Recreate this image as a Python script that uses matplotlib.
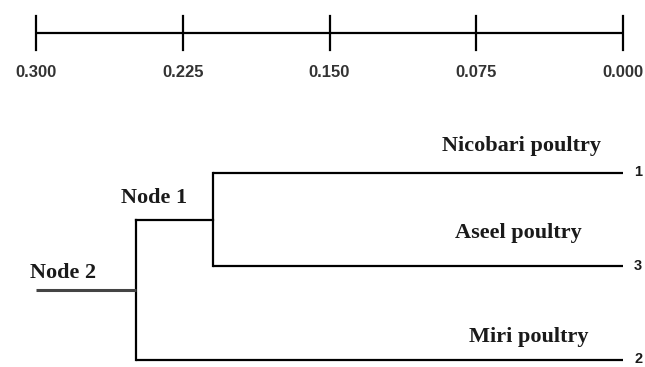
import matplotlib
matplotlib.use('Agg')
import matplotlib.pyplot as plt

# scale bar ticks (genetic distance)
scale_ticks = [0.300, 0.225, 0.150, 0.075, 0.000]
scale_labels = ['0.300', '0.225', '0.150', '0.075', '0.000']

# leaves, top to bottom
leaf_names = ['Nicobari poultry', 'Aseel poultry', 'Miri poultry']
leaf_ids = ['1', '3', '2']

# node heights (distance from leaves)
node1_height = 0.2095   # joins Nicobari + Aseel
node2_height = 0.249    # joins Node 1 + Miri
root_height = 0.300

SERIF = ['Liberation Serif', 'DejaVu Serif']
SANS = ['Liberation Sans', 'DejaVu Sans']

fig = plt.figure(figsize=(6.45, 3.67), dpi=100)
ax = fig.add_axes([0, 0, 1, 1])
ax.set_xlim(0.3184, -0.0112)
ax.set_ylim(2.075, -1.85)
ax.axis('off')

lw = 1.6
col = 'black'

# scale bar
bar_y = -1.497
tick_half = 0.18
ax.plot([scale_ticks[0], scale_ticks[-1]], [bar_y, bar_y], color=col, lw=lw,
        solid_capstyle='butt')
for t, lab in zip(scale_ticks, scale_labels):
    ax.plot([t, t], [bar_y - tick_half, bar_y + tick_half], color=col, lw=lw)
    ax.text(t, bar_y + 0.42, lab, ha='center', va='center', fontsize=12,
            fontweight='bold', family=SANS, color='#333333')

# tree
y_leaf = [0, 1, 2]
y_node1 = (y_leaf[0] + y_leaf[1]) / 2.0
y_node2 = (y_node1 + y_leaf[2]) / 2.0

# Node 1 clade
ax.plot([node1_height, node1_height], [y_leaf[0], y_leaf[1]], color=col, lw=lw)
for y in y_leaf[:2]:
    ax.plot([node1_height, 0.0], [y, y], color=col, lw=lw,
            solid_capstyle='butt')
# Node 2
ax.plot([node2_height, node2_height], [y_node1, y_leaf[2]], color=col, lw=lw)
ax.plot([node2_height, node1_height], [y_node1, y_node1], color=col, lw=lw)
ax.plot([node2_height, 0.0], [y_leaf[2], y_leaf[2]], color=col, lw=lw,
        solid_capstyle='butt')
# root stub
ax.plot([root_height, node2_height], [y_node2, y_node2], color='#444444',
        lw=lw + 0.6, solid_capstyle='butt')

# leaf labels
name_pos = [(0.0521, -0.289), (0.0537, -0.358), (0.048, -0.246)]
for y, name, nid, (nx, dy) in zip(y_leaf, leaf_names, leaf_ids, name_pos):
    ax.text(nx, y + dy, name, ha='center', va='center', fontsize=16,
            fontweight='bold', family=SERIF, color='#1a1a1a')
    ax.text(-0.0077, y - 0.01, nid, ha='center', va='center', fontsize=10.5,
            fontweight='bold', family=SANS, color='#1a1a1a')

# node labels
ax.text(0.2397, y_node1 - 0.233, 'Node 1', ha='center', va='center',
        fontsize=16, fontweight='bold', family=SERIF, color='#1a1a1a')
ax.text(0.2862, y_node2 - 0.18, 'Node 2', ha='center', va='center',
        fontsize=16, fontweight='bold', family=SERIF, color='#1a1a1a')

fig.savefig('out.png', dpi=100)
